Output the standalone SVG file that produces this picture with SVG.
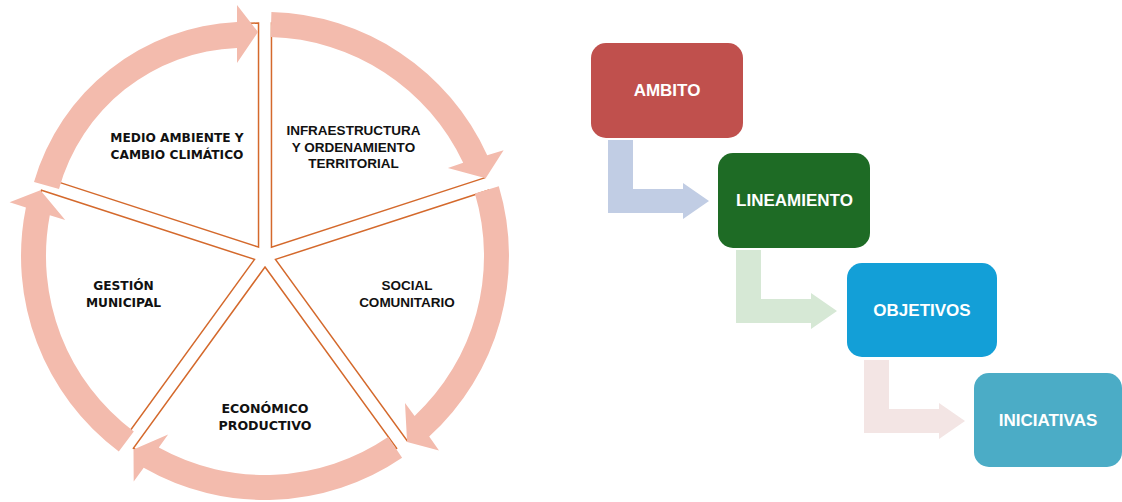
<svg xmlns="http://www.w3.org/2000/svg" width="1122" height="502" viewBox="0 0 1122 502">
<style>
.wedge{fill:#ffffff;stroke:#D4692C;stroke-width:1.5;stroke-linejoin:miter}
.ring{fill:#F3BBAD}
.lbl{font-family:"DejaVu Sans",sans-serif;font-weight:bold;font-size:12.2px;fill:#111;text-anchor:middle}
.lbl2{font-family:"Liberation Sans",Arial,sans-serif;font-weight:bold;font-size:13.5px;fill:#111;text-anchor:middle}
.box{stroke:none}
.btxt{font-family:"Liberation Sans",Arial,sans-serif;font-weight:bold;font-size:17px;fill:#ffffff;text-anchor:middle}
</style>
<rect width="1122" height="502" fill="#ffffff"/>

<g id="wheel">
  <g id="wedge-medio">
    <path class="wedge" d="M258.53,247.10 L45.49,177.88 A224,224 0 0 1 258.53,23.10 Z"/>
  </g>
  <g id="wedge-infra">
    <path class="wedge" d="M271.47,247.10 L271.47,23.10 A224,224 0 0 1 484.51,177.88 Z"/>
  </g>
  <g id="wedge-social">
    <path class="wedge" d="M275.46,259.40 L488.50,190.18 A224,224 0 0 1 407.12,440.62 Z"/>
  </g>
  <g id="wedge-econ">
    <path class="wedge" d="M265,267 L396.66,448.22 A224,224 0 0 1 133.34,448.22 Z"/>
  </g>
  <g id="wedge-gestion">
    <path class="wedge" d="M254.54,259.40 L122.88,440.62 A224,224 0 0 1 41.50,190.18 Z"/>
  </g>
</g>

<g id="connectors">
  <path id="arrow1" class="ring" d="M34,182 A222,222 0 0 1 237,22 L237,5 L258,32 L237,63 L237,48 A192,192 0 0 0 59,189 Z"/>
  <path id="arrow2" class="ring" d="M271.4,12.1 A244,244 0 0 1 487.2,155.2 L503.6,150.3 L485.7,178.3 L447.9,168.0 L463.2,162.8 A219,219 0 0 0 270.7,37.1 Z"/>
  <path id="arrow3" class="ring" d="M498.8,186.3 A244,244 0 0 1 429.2,436.5 L439.0,450.6 L407.1,441.9 L405.0,403.0 L414.6,415.9 A219,219 0 0 0 474.9,193.4 Z"/>
  <path id="arrow4" class="ring" d="M402.1,457.8 A244,244 0 0 1 143.7,467.7 L133.7,481.6 L133.5,449.5 L168.1,434.4 L158.8,447.5 A219,219 0 0 0 388.1,437.1 Z"/>
  <path id="arrow5" class="ring" d="M118.8,451.4 A244,244 0 0 1 25.9,207.4 L9.6,202.2 L40.4,190.3 L65.2,220.1 L49.8,215.3 A219,219 0 0 0 133.8,431.4 Z"/>
  <path id="bent1" fill="#C1CDE4" d="M608,140 L633,140 L633,189 L683,189 L683,183 L709,201 L683,219 L683,213 L608,213 Z"/>
  <path id="bent2" fill="#D6E8D5" d="M736,250 L761,250 L761,299 L811,299 L811,293 L837,311 L811,329 L811,323 L736,323 Z"/>
  <path id="bent3" fill="#F3E5E4" d="M864,360 L889,360 L889,409 L939,409 L939,403 L965,421 L939,439 L939,433 L864,433 Z"/>
</g>

<g id="label-medio">
  <text class="lbl" x="177" y="141.7">MEDIO AMBIENTE Y</text>
  <text class="lbl" x="177" y="159.3">CAMBIO CLIMÁTICO</text>
</g>
<g id="label-infra">
  <text class="lbl2" x="353.5" y="135">INFRAESTRUCTURA</text>
  <text class="lbl2" x="353.5" y="151.5">Y ORDENAMIENTO</text>
  <text class="lbl2" x="353.5" y="167.7">TERRITORIAL</text>
</g>
<g id="label-social">
  <text class="lbl2" x="407" y="290">SOCIAL</text>
  <text class="lbl2" x="407" y="306.7">COMUNITARIO</text>
</g>
<g id="label-econ">
  <text class="lbl" x="265" y="413.3" style="font-size:12.6px">ECONÓMICO</text>
  <text class="lbl" x="265" y="430" style="font-size:12.6px">PRODUCTIVO</text>
</g>
<g id="label-gestion">
  <text class="lbl" x="123.5" y="290">GESTIÓN</text>
  <text class="lbl" x="123.5" y="306.7">MUNICIPAL</text>
</g>

<g id="node-ambito">
  <rect class="box" x="591" y="43" width="152" height="95" rx="15" fill="#C0504D"/>
  <text class="btxt" x="667" y="96">AMBITO</text>
</g>
<g id="node-lineamiento">
  <rect class="box" x="718" y="153" width="152" height="95" rx="15" fill="#1E6B25"/>
  <text class="btxt" x="794.5" y="206">LINEAMIENTO</text>
</g>
<g id="node-objetivos">
  <rect class="box" x="847" y="263" width="150" height="94" rx="15" fill="#139FD7"/>
  <text class="btxt" x="922" y="315.5">OBJETIVOS</text>
</g>
<g id="node-iniciativas">
  <rect class="box" x="974" y="373" width="148" height="94" rx="15" fill="#4BACC6"/>
  <text class="btxt" x="1048" y="425.5">INICIATIVAS</text>
</g>
</svg>
